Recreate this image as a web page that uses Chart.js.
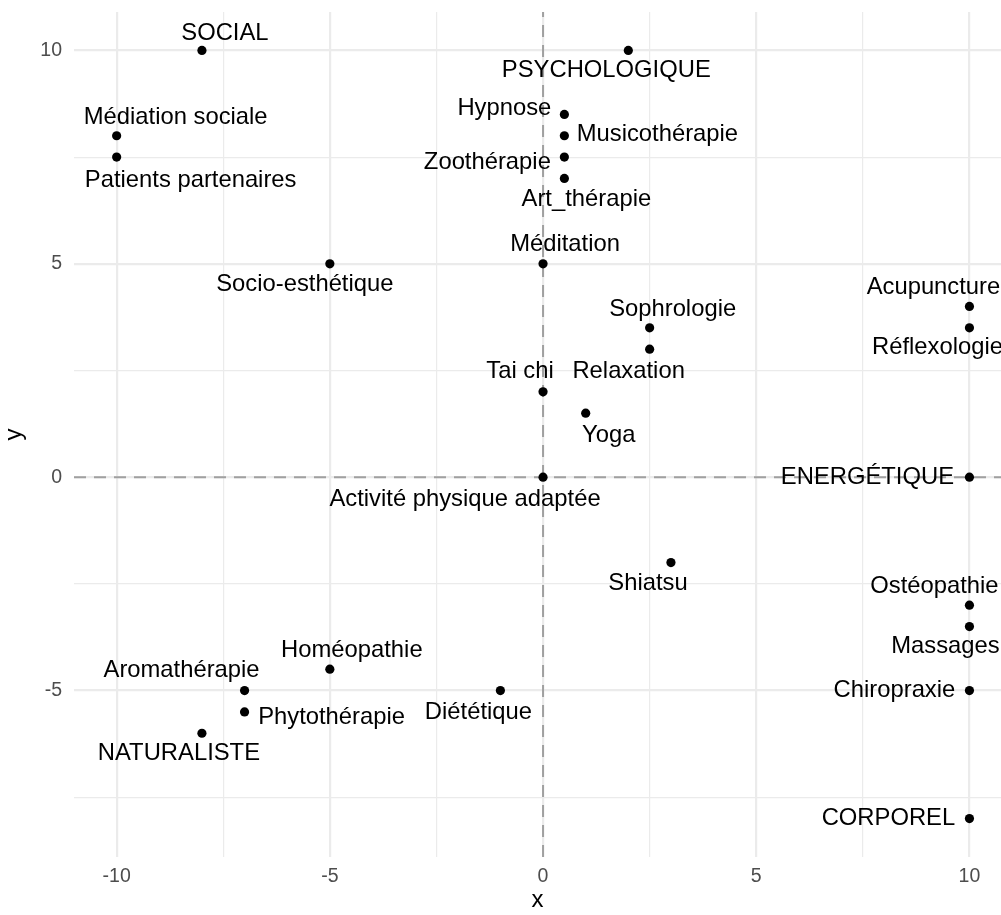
<!DOCTYPE html>
<html>
<head>
<meta charset="utf-8">
<script src="https://cdn.jsdelivr.net/npm/chart.js@4.4.1/dist/chart.umd.min.js"></script>
<style>
  html, body { margin: 0; padding: 0; background: #fff; overflow: hidden; }
  #wrap { width: 1001px; height: 915px; }
</style>
</head>
<body>
<div id="wrap"><canvas id="chart"></canvas></div>
<script>
// donnees
const names = [
  'SOCIAL', 'Médiation sociale', 'Patients partenaires', 'Socio-esthétique',
  'PSYCHOLOGIQUE', 'Hypnose', 'Musicothérapie', 'Zoothérapie', 'Art_thérapie',
  'Méditation', 'Sophrologie', 'Relaxation', 'Tai chi', 'Yoga',
  'Activité physique adaptée', 'Acupuncture', 'Réflexologie', 'ENERGÉTIQUE',
  'Shiatsu', 'Ostéopathie', 'Massages', 'Chiropraxie', 'CORPOREL',
  'Homéopathie', 'Aromathérapie', 'Phytothérapie', 'NATURALISTE', 'Diététique'
];
const xs = [-8, -10, -10, -5, 2, 0.5, 0.5, 0.5, 0.5, 0, 2.5, 2.5, 0, 1, 0, 10, 10, 10, 3, 10, 10, 10, 10, -5, -7, -7, -8, -1];
const ys = [10, 8, 7.5, 5, 10, 8.5, 8, 7.5, 7, 5, 3.5, 3, 2, 1.5, 0, 4, 3.5, 0, -2, -3, -3.5, -5, -8, -4.5, -5, -5.5, -6, -5];

const xTicks = [-10, -5, 0, 5, 10];
const yTicks = [-5, 0, 5, 10];
const xGrid = [-10, -7.5, -5, -2.5, 0, 2.5, 5, 7.5, 10];
const yGrid = [-7.5, -5, -2.5, 0, 2.5, 5, 7.5, 10];

// decalage des etiquettes (pixels, centre du texte)
const labelOffsets = [
  [23, -17], [59, -18], [74, 23], [-25, 21],
  [-22, 20], [-60, -6], [93, -1], [-77, 5], [22, 21],
  [22, -19], [23, -18], [-21, 22], [-23, -20], [23, 22],
  [-78, 22], [-36, -19], [-32, 20], [-102, 0],
  [-23, 21], [-35, -19], [-24, 20], [-75, 0], [-81, 0],
  [22, -19], [-63, -20], [87, 6], [-23, 20], [-22, 22]
];

const FONT = '"Liberation Sans", Arial, sans-serif';
const X_MIN = -11, X_MAX = 10.74, Y_MIN = -8.9, Y_MAX = 10.9;

const labelPlugin = {
  id: 'pointLabels',
  afterDatasetsDraw(chart) {
    const { ctx, scales: { x, y } } = chart;
    ctx.save();
    ctx.font = '23.8px ' + FONT;
    ctx.fillStyle = '#000';
    ctx.textAlign = 'center';
    ctx.textBaseline = 'middle';
    names.forEach((n, i) => {
      const px = x.getPixelForValue(xs[i]) + labelOffsets[i][0];
      const py = y.getPixelForValue(ys[i]) + labelOffsets[i][1];
      ctx.fillText(n, px, py);
    });
    ctx.restore();
  }
};

function gridOpts(majors) {
  return {
    color: '#EBEBEB',
    lineWidth: c => majors.includes(c.tick.value) ? 2.2 : 1.2,
    drawTicks: false
  };
}

function noPad(s) {
  s.paddingTop = 0; s.paddingBottom = 0; s.paddingLeft = 0; s.paddingRight = 0;
}

new Chart(document.getElementById('chart'), {
  type: 'scatter',
  data: {
    datasets: [
      {
        data: names.map((n, i) => ({ x: xs[i], y: ys[i] })),
        backgroundColor: '#000',
        borderWidth: 0,
        pointRadius: 4.6,
        order: 0
      },
      {
        type: 'line',
        data: [{ x: 0, y: Y_MIN }, { x: 0, y: Y_MAX }],
        borderColor: '#A0A0A0',
        borderWidth: 2,
        borderDash: [12, 8],
        pointRadius: 0,
        order: 1
      },
      {
        type: 'line',
        data: [{ x: X_MIN, y: 0 }, { x: X_MAX, y: 0 }],
        borderColor: '#A0A0A0',
        borderWidth: 2,
        borderDash: [12, 8],
        pointRadius: 0,
        order: 1
      }
    ]
  },
  options: {
    responsive: true,
    maintainAspectRatio: false,
    animation: false,
    layout: { autoPadding: false, padding: { top: 12, left: 0, right: 0, bottom: 0 } },
    plugins: { legend: { display: false }, tooltip: { enabled: false } },
    scales: {
      x: {
        type: 'linear',
        min: X_MIN,
        max: X_MAX,
        afterBuildTicks: s => { s.ticks = xGrid.map(v => ({ value: v })); },
        afterFit: s => { s.height = 58; noPad(s); },
        grid: gridOpts(xTicks),
        border: { display: false },
        ticks: {
          autoSkip: false,
          maxRotation: 0,
          padding: 8,
          color: '#4D4D4D',
          font: { family: FONT, size: 19.5 },
          callback: v => xTicks.includes(v) ? String(v) : ''
        },
        title: { display: true, text: 'x', color: '#000', font: { family: FONT, size: 24 }, padding: 0 }
      },
      y: {
        type: 'linear',
        min: Y_MIN,
        max: Y_MAX,
        afterBuildTicks: s => { s.ticks = yGrid.map(v => ({ value: v })); },
        afterFit: s => { s.width = 74; noPad(s); },
        grid: gridOpts(yTicks),
        border: { display: false },
        ticks: {
          autoSkip: false,
          padding: 12,
          color: '#4D4D4D',
          font: { family: FONT, size: 19.5 },
          callback: v => yTicks.includes(v) ? String(v) : ''
        },
        title: { display: true, text: 'y', color: '#000', font: { family: FONT, size: 24 }, padding: 0 }
      }
    }
  },
  plugins: [labelPlugin]
});
</script>
</body>
</html>
